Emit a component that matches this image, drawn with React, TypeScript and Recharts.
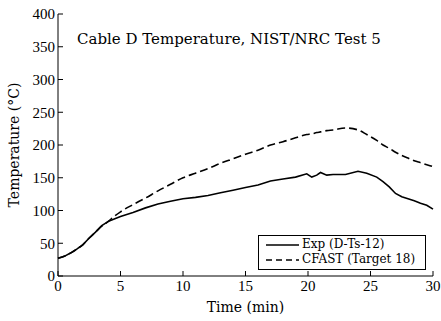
import { Line, LineChart, XAxis, YAxis } from "recharts";

const times = [0, 0.5, 1, 1.5, 2, 2.5, 3, 3.5, 4, 4.5, 5, 6, 7, 8, 9, 10, 11, 12, 13, 14, 15, 16, 17, 18, 19, 19.9, 20.3, 20.7, 21, 21.5, 22, 23, 24, 24.7, 25.5, 26, 26.5, 27, 27.5, 28, 28.5, 29, 29.5, 30];
const expValues = [27, 30, 35, 41, 48, 58, 67, 77, 83, 87, 91, 97, 104, 110, 114, 118, 120, 123, 127, 131, 135, 139, 145, 148, 151, 156, 151, 154, 158, 154, 155, 155, 160, 157, 151, 144, 136, 126, 121, 118, 115, 111, 108, 102];
const cfastValues = [27, 30, 35, 41, 48, 58, 67, 76, 83, 91, 98, 109, 119, 130, 140, 150, 157, 164, 172, 179, 186, 192, 200, 205, 211, 216, 217, 219, 220, 222, 223, 226, 223, 216, 207, 200, 195, 189, 184, 180, 176, 173, 170, 167];
const xTicks = [0, 5, 10, 15, 20, 25, 30];
const yTicks = [0, 50, 100, 150, 200, 250, 300, 350, 400];

const data = times.map((t, i) => ({ t, exp: expValues[i], cfast: cfastValues[i] }));

const tickFont = "'Liberation Serif', serif";
const labelFont = "'DejaVu Serif', serif";
const tickStyle = { fill: "#000", fontSize: 15, fontFamily: tickFont };

export default function App() {
  return (
    <div style={{ position: "absolute", left: 0, top: 0, width: 441, height: 321, background: "#fff" }}>
      <LineChart width={441} height={321} data={data} margin={{ top: 14, right: 8, bottom: 0, left: 0 }}>
        <XAxis dataKey="t" type="number" domain={[0, 30]} ticks={xTicks} xAxisId="b" height={45}
          stroke="#000" tickSize={-5} tickMargin={9} tick={tickStyle}
          label={{ value: "Time (min)", position: "insideBottom", offset: 9, fill: "#000", fontSize: 14, fontFamily: labelFont }} />
        <XAxis dataKey="t" type="number" domain={[0, 30]} ticks={xTicks} xAxisId="top" orientation="top" height={0}
          stroke="#000" tickSize={-5} tickFormatter={() => ""} />
        <YAxis domain={[0, 400]} ticks={yTicks} yAxisId="l" width={58} stroke="#000" tickSize={-5} tickMargin={8} tick={tickStyle}
          label={{ value: "Temperature (°C)", angle: -90, position: "insideLeft", offset: 14, style: { textAnchor: "middle" }, fill: "#000", fontSize: 14, fontFamily: labelFont }} />
        <YAxis domain={[0, 400]} ticks={yTicks} yAxisId="r" orientation="right" width={0} stroke="#000" tickSize={-5} tickFormatter={() => ""} />
        <Line xAxisId="b" yAxisId="l" dataKey="exp" type="linear" stroke="#000" strokeWidth={1.6} dot={false} isAnimationActive={false} />
        <Line xAxisId="b" yAxisId="l" dataKey="cfast" type="monotone" stroke="#000" strokeWidth={1.6} strokeDasharray="8 4" dot={false} isAnimationActive={false} />
      </LineChart>
      <div style={{ position: "absolute", left: 77, top: 30, fontFamily: labelFont, fontSize: 15, whiteSpace: "nowrap" }}>
        Cable D Temperature, NIST/NRC Test 5
      </div>
      <div style={{ position: "absolute", left: 258, top: 235, width: 166, height: 32, border: "1.5px solid #000", background: "#fff", fontFamily: labelFont, fontSize: 12, lineHeight: "15px", paddingTop: 1 }}>
        <div style={{ display: "flex", alignItems: "center" }}>
          <svg width={40} height={10} style={{ marginLeft: 7 }}><line x1={0} y1={5} x2={33} y2={5} stroke="#000" strokeWidth={1.5} /></svg>
          <span style={{ marginLeft: -4 }}>Exp (D-Ts-12)</span>
        </div>
        <div style={{ display: "flex", alignItems: "center" }}>
          <svg width={40} height={10} style={{ marginLeft: 7 }}><line x1={0} y1={5} x2={33} y2={5} stroke="#000" strokeWidth={1.5} strokeDasharray="6 4" /></svg>
          <span style={{ marginLeft: -4 }}>CFAST (Target 18)</span>
        </div>
      </div>
    </div>
  );
}
